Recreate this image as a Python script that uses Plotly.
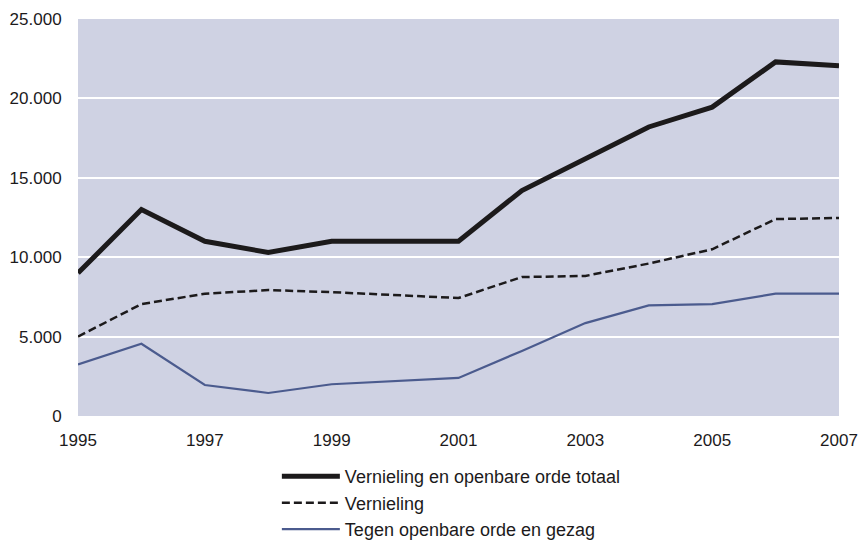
import plotly.graph_objects as go

years = list(range(1995, 2008))
totaal = [9000, 13000, 11000, 10300, 11000, 11000, 11000, 14200, 16200, 18200, 19450, 22300, 22050]
vernieling = [5000, 7050, 7700, 7930, 7800, 7600, 7430, 8750, 8820, 9600, 10500, 12400, 12470]
gezag = [3250, 4550, 1950, 1450, 2000, 2200, 2400, 4100, 5850, 6970, 7050, 7700, 7700]

names = ["Vernieling en openbare orde totaal", "Vernieling", "Tegen openbare orde en gezag"]
ytickvals = [0, 5000, 10000, 15000, 20000, 25000]
yticktext = ["0", "5.000", "10.000", "15.000", "20.000", "25.000"]

FONT = "Liberation Sans"

fig = go.Figure()
fig.add_trace(go.Scatter(x=years, y=totaal, mode="lines", name=names[0],
                         line=dict(color="#1c1a1b", width=5)))
fig.add_trace(go.Scatter(x=years, y=vernieling, mode="lines", name=names[1],
                         line=dict(color="#1c1a1b", width=2.5, dash="8px,4px")))
fig.add_trace(go.Scatter(x=years, y=gezag, mode="lines", name=names[2],
                         line=dict(color="#4b5b8e", width=2.2)))

# the page body adds an 8px margin, so the figure is 8px smaller than the window
fig.update_layout(
    width=859, height=534,
    margin=dict(l=70, r=28, t=11, b=126, autoexpand=False),
    plot_bgcolor="#cfd2e3",
    paper_bgcolor="white",
    font=dict(family=FONT, size=17, color="#1c1a1b"),
    showlegend=True,
    legend=dict(x=0.313, y=0.157, xref="container", yref="container",
                xanchor="left", yanchor="top",
                font=dict(size=18, family=FONT), itemwidth=58,
                tracegroupgap=0, bgcolor="rgba(0,0,0,0)"),
)
fig.update_xaxes(range=[1995, 2007], tickvals=list(range(1995, 2008, 2)),
                 showgrid=False, zeroline=False, showline=False, automargin=False,
                 ticks="outside", ticklen=9, tickcolor="rgba(0,0,0,0)",
                 tickfont=dict(size=17, family=FONT))
fig.update_yaxes(range=[0, 25000], tickvals=ytickvals, ticktext=yticktext,
                 showgrid=True, gridcolor="white", gridwidth=2, automargin=False,
                 zeroline=False, showline=False,
                 ticks="outside", ticklen=12, tickcolor="rgba(0,0,0,0)",
                 tickfont=dict(size=17, family=FONT))

fig.write_html("out.html")
